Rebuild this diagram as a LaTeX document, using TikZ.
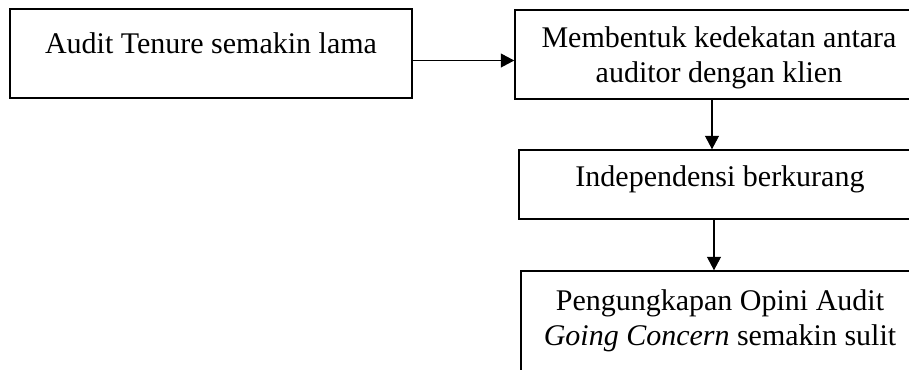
\documentclass[tikz,border=0pt]{standalone}
\usepackage{fontspec}
\setmainfont{Liberation Serif}
\usetikzlibrary{arrows.meta}
\begin{document}
\begin{tikzpicture}[x=0.4pt,y=-0.4pt,
  boxstyle/.style={draw=black,line width=0.6pt,rectangle,inner sep=0pt},
  txt/.style={font=\fontsize{12}{14}\selectfont,align=center,anchor=base,inner sep=0pt},
  arr/.style={draw=black,line width=0.45pt,-{Triangle[length=5.4pt,width=5.6pt]}}]
\useasboundingbox (0,0) rectangle (909,369);
\clip (0,0) rectangle (909,369);
\node[boxstyle,minimum width=402*0.4pt,minimum height=89*0.4pt] (b1) at (211,53.5) {};
\node[boxstyle,minimum width=408*0.4pt,minimum height=89*0.4pt] (b2) at (719,54.5) {};
\node[boxstyle,minimum width=402*0.4pt,minimum height=69*0.4pt] (b3) at (720,184.5) {};
\node[boxstyle,minimum width=398*0.4pt,minimum height=129*0.4pt] (b4) at (720,335.5) {};
\node[txt] (t1) at (211,53) {Audit Tenure semakin lama};
\node[txt] (t2) at (719,82) {Membentuk kedekatan antara\\auditor dengan klien};
\node[txt] (t3) at (720,186) {Independensi berkurang};
\node[txt] (t4) at (720,345) {Pengungkapan Opini Audit\\\textit{Going Concern} semakin sulit};
\coordinate (x2) at (712,0);
\coordinate (x3) at (714,0);
\draw[arr] (b1.east) ++(0,7) coordinate (s1) -- (s1 -| b2.west);
\draw[arr] (b2.south -| x2) -- (b3.north -| x2);
\draw[arr] (b3.south -| x3) -- (b4.north -| x3);
\end{tikzpicture}
\end{document}
